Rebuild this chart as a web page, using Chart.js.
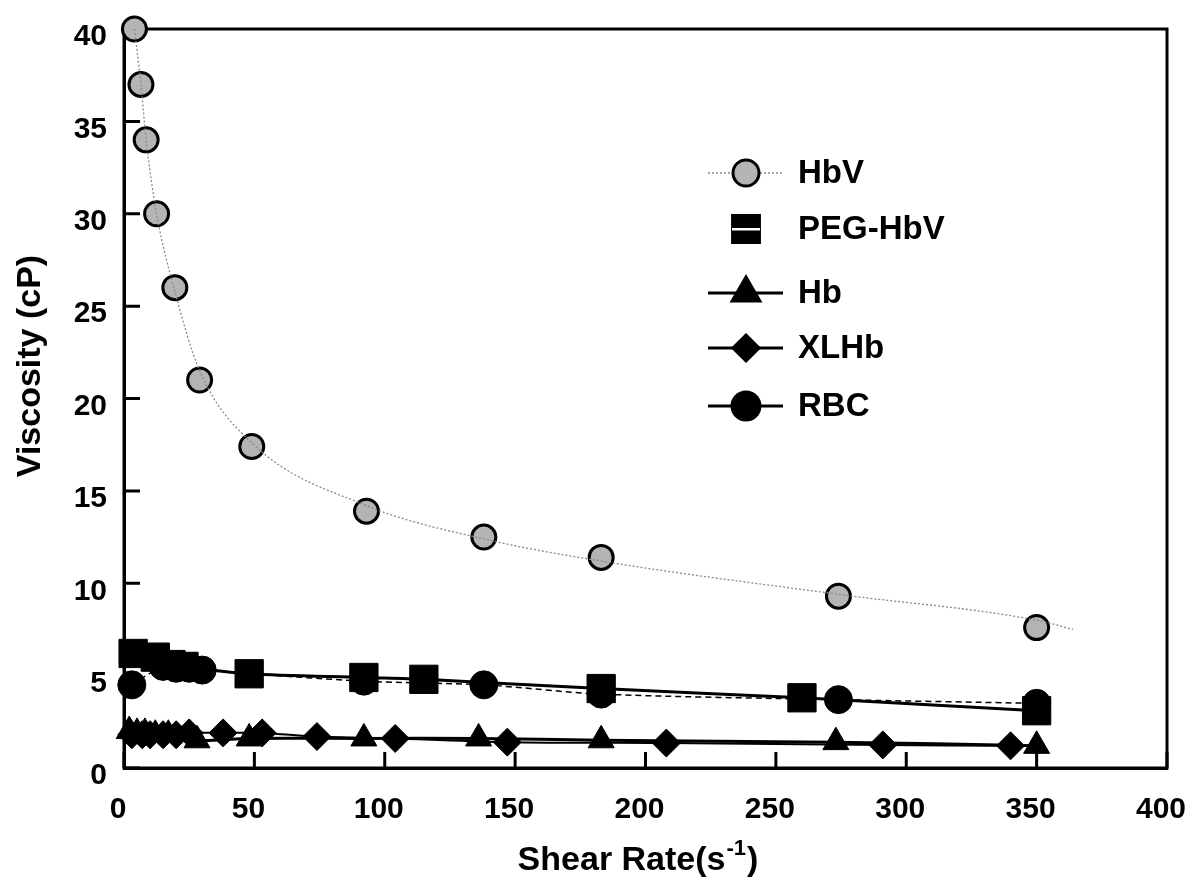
<!DOCTYPE html>
<html>
<head>
<meta charset="utf-8">
<title>Viscosity vs Shear Rate</title>
<script src="https://cdn.jsdelivr.net/npm/chart.js@4/dist/chart.umd.min.js"></script>
<style>
  body { margin: 0; background: #fff; }
  #wrap { position: relative; width: 1193px; height: 882px; }
</style>
</head>
<body>
<div id="wrap"><canvas id="myChart" width="1193" height="882"></canvas></div>
<script>
// colores
const black = '#000000'
const hbvFill = '#b4b4b4'
const font = '"Liberation Sans", Arial, Helvetica, sans-serif'

// HbV (circulos grises, linea punteada)
const hbvX = [4, 6.5, 8.5, 12.5, 19.5, 29, 49, 93, 138, 183, 274, 350]
const hbvY = [40, 37, 34, 30, 26, 21, 17.4, 13.9, 12.5, 11.4, 9.3, 7.6]
// curva ajustada de HbV (se prolonga mas alla del ultimo punto)
const hbvFitX = [4, 6.5, 8.5, 12.5, 19.5, 29, 49, 93, 138, 183, 274, 350, 364]
const hbvFitY = [40, 37, 34, 30, 25.8, 21.5, 17.6, 14.2, 12.4, 11.2, 9.4, 8.0, 7.5]

// PEG-HbV (cuadrados)
const pegX = [3.5, 12, 18, 23, 48, 92, 115, 183, 260, 350]
const pegY = [6.2, 6.0, 5.6, 5.5, 5.1, 4.9, 4.8, 4.3, 3.8, 3.1]

// Hb (triangulos)
const hbX = [2, 5, 8, 12, 17, 28, 48, 92, 136, 183, 273, 350]
const hbY = [2.0, 1.9, 1.9, 1.8, 1.8, 1.5, 1.6, 1.6, 1.6, 1.5, 1.4, 1.2]

// XLHb (rombos)
const xlX = [3, 7, 10, 15, 20, 25, 38, 53, 74, 104, 147, 208, 291, 340]
const xlY = [1.8, 1.8, 1.8, 1.8, 1.8, 1.9, 1.9, 1.9, 1.7, 1.6, 1.4, 1.35, 1.25, 1.2]

// RBC (circulos negros)
const rbcX = [3, 15, 20, 25, 30, 92, 138, 183, 274, 350]
const rbcY = [4.5, 5.5, 5.4, 5.4, 5.3, 4.7, 4.5, 4.0, 3.7, 3.5]

// ejes
const xTicks = [0, 50, 100, 150, 200, 250, 300, 350, 400]
const yTicks = [0, 5, 10, 15, 20, 25, 30, 35, 40]
const xTitle = 'Shear Rate(s'
const xTitleSup = '-1'
const yTitle = 'Viscosity (cP)'

function pts(xs, ys) {
  return xs.map((x, i) => ({ x: x, y: ys[i] }))
}

// leyenda dentro del area del grafico
const legendItems = [
  { label: 'HbV', style: 'circle', r: 13, fill: hbvFill, line: 'dot' },
  { label: 'PEG-HbV', style: 'rect', r: 19, fill: black, line: 'none' },
  { label: 'Hb', style: 'triangle', r: 16, fill: black, line: 'solid' },
  { label: 'XLHb', style: 'rectRot', r: 13, fill: black, line: 'solid' },
  { label: 'RBC', style: 'circle', r: 14, fill: black, line: 'solid' }
]
const legendRows = [173, 229, 293, 348, 406]

const framePlugin = {
  id: 'frame',
  beforeDatasetsDraw(chart) {
    const { ctx, chartArea: a, scales } = chart
    ctx.save()
    ctx.strokeStyle = black
    ctx.lineWidth = 3
    ctx.strokeRect(a.left, a.top, a.right - a.left, a.bottom - a.top)
    ctx.beginPath()
    xTicks.forEach(v => {
      const px = scales.x.getPixelForValue(v)
      ctx.moveTo(px, a.bottom)
      ctx.lineTo(px, a.bottom - 16)
    })
    yTicks.forEach(v => {
      const py = scales.y.getPixelForValue(v)
      ctx.moveTo(a.left, py)
      ctx.lineTo(a.left + 16, py)
    })
    ctx.stroke()
    ctx.restore()
  },
  afterDraw(chart) {
    const ctx = chart.ctx
    ctx.save()
    // leyenda
    legendItems.forEach((it, i) => {
      const y = legendRows[i]
      const cx = 746
      if (it.line !== 'none') {
        ctx.beginPath()
        ctx.strokeStyle = it.line === 'dot' ? '#888' : black
        ctx.lineWidth = it.line === 'dot' ? 1.3 : 3
        ctx.setLineDash(it.line === 'dot' ? [2, 2] : [])
        ctx.moveTo(708, y)
        ctx.lineTo(783, y)
        ctx.stroke()
        ctx.setLineDash([])
      }
      ctx.fillStyle = it.fill
      ctx.strokeStyle = black
      ctx.lineWidth = 3
      Chart.helpers.drawPoint(ctx, { pointStyle: it.style, radius: it.r, borderWidth: 3 }, cx, y)
      if (it.style === 'rect') {
        ctx.fillStyle = '#fff'
        ctx.fillRect(cx - 14, y - 1, 28, 2.5)
      }
      ctx.fillStyle = black
      ctx.font = 'bold 33px ' + font
      ctx.textBaseline = 'middle'
      ctx.textAlign = 'left'
      ctx.fillText(it.label, 798, y + 1)
    })
    // titulos de los ejes
    ctx.fillStyle = black
    ctx.textBaseline = 'alphabetic'
    ctx.font = 'bold 34px ' + font
    const w1 = ctx.measureText(xTitle).width
    ctx.font = 'bold 22px ' + font
    const w2 = ctx.measureText(xTitleSup).width
    ctx.font = 'bold 34px ' + font
    const w3 = ctx.measureText(')').width
    let x0 = 637 - (w1 + w2 + w3) / 2
    ctx.textAlign = 'left'
    ctx.fillText(xTitle, x0, 870)
    ctx.font = 'bold 22px ' + font
    ctx.fillText(xTitleSup, x0 + w1 + 1, 855)
    ctx.font = 'bold 34px ' + font
    ctx.fillText(')', x0 + w1 + w2 + 2, 870)

    ctx.translate(31, 366)
    ctx.rotate(-Math.PI / 2)
    ctx.textAlign = 'center'
    ctx.textBaseline = 'middle'
    ctx.font = 'bold 34px ' + font
    ctx.fillText(yTitle, 0, 0)
    ctx.restore()
  }
}

var ctx = document.getElementById('myChart')

var chart = new Chart(ctx, {
  type: 'scatter',
  data: {
    datasets: [
      {
        label: 'HbV fit',
        data: pts(hbvFitX, hbvFitY),
        showLine: true,
        borderColor: '#8a8a8a',
        borderWidth: 1.3,
        borderDash: [2, 2],
        pointRadius: 0,
        tension: 0.4,
        cubicInterpolationMode: 'monotone'
      },
      {
        label: 'Hb',
        data: pts(hbX, hbY),
        showLine: true,
        borderColor: black,
        borderWidth: 3,
        backgroundColor: black,
        pointStyle: 'triangle',
        pointRadius: 15,
        pointBorderWidth: 1,
        tension: 0.3
      },
      {
        label: 'XLHb',
        data: pts(xlX, xlY),
        showLine: true,
        borderColor: black,
        borderWidth: 2,
        backgroundColor: black,
        pointStyle: 'rectRot',
        pointRadius: 14,
        pointBorderWidth: 1,
        tension: 0.3
      },
      {
        label: 'RBC',
        data: pts(rbcX, rbcY),
        showLine: true,
        borderColor: black,
        borderWidth: 1.5,
        borderDash: [6, 4],
        backgroundColor: black,
        pointStyle: 'circle',
        pointRadius: 14,
        pointBorderWidth: 1,
        tension: 0.3
      },
      {
        label: 'PEG-HbV',
        data: pts(pegX, pegY),
        showLine: true,
        borderColor: black,
        borderWidth: 3,
        backgroundColor: black,
        pointStyle: 'rect',
        pointRadius: 20,
        pointBorderWidth: 1,
        tension: 0.3
      },
      {
        label: 'HbV',
        data: pts(hbvX, hbvY),
        showLine: false,
        backgroundColor: hbvFill,
        borderColor: black,
        pointStyle: 'circle',
        pointRadius: 12,
        pointBorderWidth: 3
      }
    ]
  },
  options: {
    responsive: false,
    animation: false,
    clip: false,
    layout: { padding: { top: 29, right: 26, left: 0, bottom: 0 } },
    plugins: {
      legend: { display: false },
      tooltip: { enabled: false }
    },
    scales: {
      x: {
        type: 'linear',
        min: 0,
        max: 400,
        afterBuildTicks: s => { s.ticks = xTicks.map(v => ({ value: v })) },
        afterFit: s => { s.height = 114; s.paddingLeft = 0; s.paddingRight = 0 },
        grid: { display: false, drawTicks: false },
        border: { color: black, width: 3 },
        ticks: { color: black, padding: 24, labelOffset: -6, font: { family: font, size: 30, weight: 'bold' } }
      },
      y: {
        type: 'linear',
        min: 0,
        max: 40,
        afterBuildTicks: s => { s.ticks = yTicks.map(v => ({ value: v })) },
        afterFit: s => { s.width = 124; s.paddingTop = 0; s.paddingBottom = 0 },
        grid: { display: false, drawTicks: false },
        border: { color: black, width: 3 },
        ticks: { color: black, padding: 17, labelOffset: 8, font: { family: font, size: 30, weight: 'bold' } }
      }
    }
  },
  plugins: [framePlugin]
})
</script>
</body>
</html>
